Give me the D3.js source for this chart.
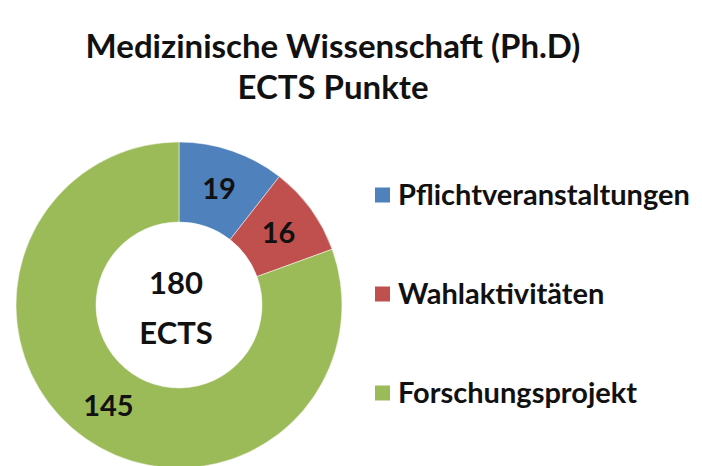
<!DOCTYPE html>
<html>
<head>
<meta charset="utf-8">
<script src="https://cdn.jsdelivr.net/npm/d3@7"></script>
<style>
  body { margin: 0; background: #fff; }
  text { font-family: Lato, "Open Sans", sans-serif; font-weight: bold; fill: #111; }
</style>
</head>
<body>
<div id="chart"></div>
<script>
const categories = ["Pflichtveranstaltungen", "Wahlaktivitäten", "Forschungsprojekt"];
const values = [19, 16, 145];
const colors = ["#4F81BD", "#C0504D", "#9BBB59"];
const titleLines = ["Medizinische Wissenschaft (Ph.D)", "ECTS Punkte"];
const centerLines = ["180", "ECTS"];

const width = 702, height = 466;
const cx = 179, cy = 305;
const outerR = 163, innerR = 83;

const svg = d3.select("#chart")
    .append("svg")
    .attr("width", width)
    .attr("height", height);

// title
svg.append("g").selectAll("text")
    .data(titleLines)
    .enter().append("text")
    .attr("x", 333)
    .attr("y", (d, i) => 58 + i * 41)
    .attr("text-anchor", "middle")
    .style("font-size", "33px")
    .text(d => d);

const data = categories.map((c, i) => ({name: c, value: values[i], color: colors[i]}));

const pie = d3.pie().sort(null).value(d => d.value);
const arc = d3.arc().innerRadius(innerR).outerRadius(outerR);

const g = svg.append("g").attr("transform", `translate(${cx},${cy})`);

const arcs = pie(data);

g.selectAll("path")
    .data(arcs)
    .enter().append("path")
    .attr("d", arc)
    .style("fill", d => d.data.color)
    .style("stroke", "#fff")
    .style("stroke-width", 0.5);

// slice labels at the arc centroids
g.selectAll(".lbl")
    .data(arcs)
    .enter().append("text")
    .attr("class", "lbl")
    .attr("transform", d => `translate(${arc.centroid(d)})`)
    .attr("text-anchor", "middle")
    .attr("dy", "0.35em")
    .style("font-size", "29px")
    .text(d => d.data.value);

// center text
g.selectAll(".ctr")
    .data(centerLines)
    .enter().append("text")
    .attr("class", "ctr")
    .attr("x", -3)
    .attr("y", (d, i) => -11 + i * 50)
    .attr("text-anchor", "middle")
    .style("font-size", "31px")
    .text(d => d);

// legend
const legend = svg.append("g").attr("transform", "translate(375,0)");
const ly = d3.scalePoint().domain(categories).range([195, 393]);

legend.selectAll("rect")
    .data(data)
    .enter().append("rect")
    .attr("x", 0)
    .attr("y", d => ly(d.name) - 7.5)
    .attr("width", 15)
    .attr("height", 15)
    .style("fill", d => d.color);

legend.selectAll("text")
    .data(data)
    .enter().append("text")
    .attr("x", 23)
    .attr("y", d => ly(d.name))
    .attr("dy", "0.35em")
    .style("font-size", "29px")
    .text(d => d.name);
</script>
</body>
</html>
